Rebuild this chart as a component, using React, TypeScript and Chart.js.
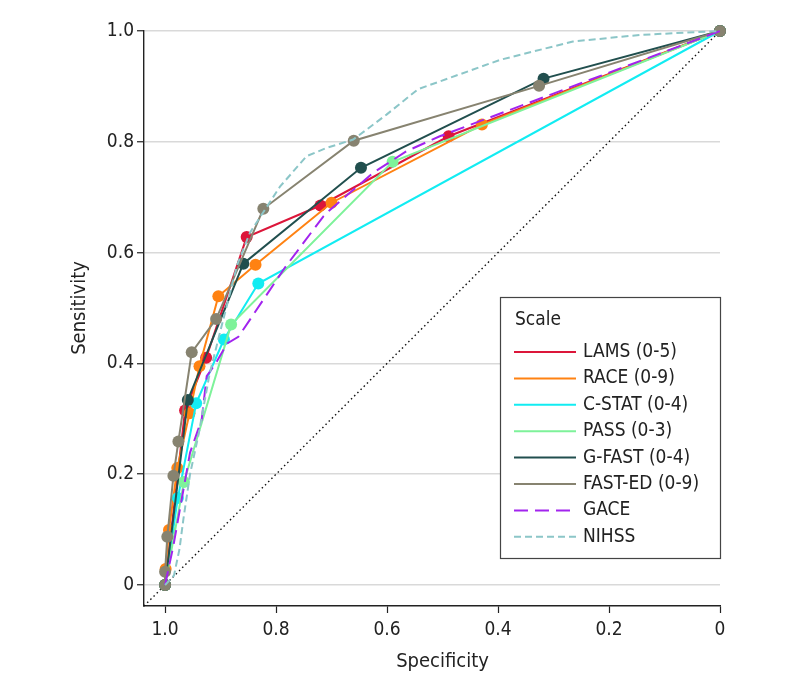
import React, { useEffect, useRef } from "react";
import { Chart, registerables } from "chart.js";

Chart.register(...registerables);

// ---- data (specificity, sensitivity) ----
const seriesNames = ["LAMS (0-5)", "RACE (0-9)", "C-STAT (0-4)", "PASS (0-3)", "G-FAST (0-4)", "FAST-ED (0-9)", "GACE", "NIHSS"];

const lamsSpec = [1, 0.964, 0.926, 0.853, 0.72, 0.489, 0];
const lamsSens = [0, 0.315, 0.41, 0.628, 0.685, 0.81, 1];

const raceSpec = [1, 0.999, 0.993, 0.978, 0.956, 0.938, 0.904, 0.837, 0.7, 0.429, 0];
const raceSens = [0, 0.029, 0.099, 0.211, 0.31, 0.395, 0.521, 0.578, 0.69, 0.831, 1];

const cstatSpec = [1, 0.977, 0.944, 0.894, 0.832, 0];
const cstatSens = [0, 0.157, 0.328, 0.443, 0.544, 1];

const passSpec = [1, 0.966, 0.881, 0.59, 0];
const passSens = [0, 0.186, 0.47, 0.764, 1];

const gfastSpec = [1, 0.959, 0.859, 0.647, 0.318, 0];
const gfastSens = [0, 0.334, 0.58, 0.753, 0.914, 1];

const fastedSpec = [1, 1.0, 0.996, 0.985, 0.976, 0.952, 0.908, 0.823, 0.66, 0.326, 0];
const fastedSens = [0, 0.024, 0.087, 0.197, 0.259, 0.42, 0.48, 0.679, 0.802, 0.901, 1];

const gaceSpec = [1, 0.985, 0.955, 0.934, 0.925, 0.91, 0.888, 0.868, 0.847, 0.784, 0.715, 0.703, 0.625, 0.565, 0.505, 0];
const gaceSens = [0, 0.071, 0.239, 0.299, 0.377, 0.398, 0.436, 0.448, 0.479, 0.573, 0.665, 0.677, 0.744, 0.783, 0.81, 1];

const nihssSpec = [1, 0.984, 0.974, 0.967, 0.955, 0.94, 0.92, 0.9, 0.87, 0.847, 0.793, 0.745, 0.709, 0.661, 0.601, 0.544, 0.396, 0.265, 0.144, 0];
const nihssSens = [0, 0.017, 0.065, 0.119, 0.2, 0.27, 0.38, 0.46, 0.578, 0.636, 0.719, 0.774, 0.789, 0.804, 0.849, 0.895, 0.948, 0.981, 0.993, 1];

const refSpec = [1.038, 0];
const refSens = [-0.038, 1];

const xTicks = [1, 0.8, 0.6, 0.4, 0.2, 0];
const yTicks = [0, 0.2, 0.4, 0.6, 0.8, 1];
const xTickLabels = ["1.0", "0.8", "0.6", "0.4", "0.2", "0"];
const yTickLabels = ["0", "0.2", "0.4", "0.6", "0.8", "1.0"];

const colors = ["#dc163a", "#ff8212", "#12ecf2", "#7ef29a", "#214f4e", "#878370", "#a224ee", "#8cc6c8"];
const dashes: number[][] = [[], [], [], [], [], [], [14, 7], [7, 4]];
const hasMarkers = [true, true, true, true, true, true, false, false];

const FONT = '"DejaVu Sans Condensed", "DejaVu Sans", sans-serif';

const pts = (sx: number[], sy: number[]) => sx.map((v, i) => ({ x: v, y: sy[i] }));

const allSpec = [lamsSpec, raceSpec, cstatSpec, passSpec, gfastSpec, fastedSpec, gaceSpec, nihssSpec];
const allSens = [lamsSens, raceSens, cstatSens, passSens, gfastSens, fastedSens, gaceSens, nihssSens];

const overlayPlugin = {
  id: "overlay",
  afterDraw(chart: any) {
    const ctx = chart.ctx;
    const xs = chart.scales.x;
    const ys = chart.scales.y;
    const ca = chart.chartArea;
    ctx.save();
    // axis titles
    ctx.fillStyle = "#222";
    ctx.font = `20px ${FONT}`;
    ctx.textAlign = "center";
    ctx.textBaseline = "middle";
    const xc = (xs.getPixelForValue(1) + xs.getPixelForValue(0)) / 2;
    ctx.fillText("Specificity", xc, chart.height - 22);
    const yc = (ys.getPixelForValue(1) + ys.getPixelForValue(0)) / 2;
    ctx.save();
    ctx.translate(72, yc);
    ctx.rotate(-Math.PI / 2);
    ctx.fillText("Sensitivity", 0, 0);
    ctx.restore();

    // legend
    const bw = 220, bh = 261;
    const bx = ca.right - bw;
    const by = ca.top + 266;
    ctx.fillStyle = "#fff";
    ctx.fillRect(bx, by, bw, bh);
    ctx.strokeStyle = "#444";
    ctx.lineWidth = 1.2;
    ctx.strokeRect(bx + 0.5, by + 0.5, bw, bh);
    ctx.fillStyle = "#222";
    ctx.textAlign = "left";
    ctx.font = `19px ${FONT}`;
    ctx.fillText("Scale", bx + 15, by + 23);
    seriesNames.forEach((name, i) => {
      const y = by + 55 + i * 26.4;
      ctx.beginPath();
      ctx.strokeStyle = colors[i];
      ctx.lineWidth = 2;
      ctx.setLineDash(dashes[i]);
      ctx.moveTo(bx + 14, y);
      ctx.lineTo(bx + 76, y);
      ctx.stroke();
      ctx.setLineDash([]);
      ctx.fillStyle = "#222";
      ctx.fillText(name, bx + 83, y);
    });
    ctx.restore();
  },
};

export default function App() {
  const ref = useRef<HTMLCanvasElement>(null);
  useEffect(() => {
    if (!ref.current) return;
    const datasets: any[] = seriesNames.map((name, i) => ({
      label: name,
      data: pts(allSpec[i], allSens[i]),
      showLine: true,
      borderColor: colors[i],
      backgroundColor: colors[i],
      borderWidth: 2,
      borderDash: dashes[i],
      pointRadius: hasMarkers[i] ? 6 : 0,
      pointBorderWidth: 0,
      pointBackgroundColor: colors[i],
      tension: 0,
      clip: false,
      order: -i,
    }));
    datasets.push({
      label: "reference",
      data: pts(refSpec, refSens),
      showLine: true,
      borderColor: "#111",
      borderWidth: 1.4,
      borderDash: [1.5, 3],
      pointRadius: 0,
      clip: false,
      order: 100,
    });
    const chart = new Chart(ref.current, {
      type: "scatter",
      data: { datasets },
      options: {
        animation: false,
        responsive: true,
        maintainAspectRatio: false,
        layout: { padding: { top: 23, right: 66, left: 0, bottom: 0 } },
        plugins: { legend: { display: false }, tooltip: { enabled: false } },
        scales: {
          x: {
            type: "linear",
            reverse: true,
            min: 0,
            max: 1.038,
            afterBuildTicks: (s: any) => {
              s.ticks = xTicks.map((v) => ({ value: v }));
            },
            afterFit: (s: any) => {
              s.height = 78;
            },
            grid: { drawOnChartArea: false, tickLength: 7, tickColor: "#222", tickWidth: 1.2 },
            border: { color: "#222", width: 1.4 },
            ticks: {
              color: "#222",
              padding: 6,
              maxRotation: 0,
              font: { family: FONT, size: 19 },
              callback: (v: any) => xTickLabels[xTicks.indexOf(Number(v))] ?? "",
            },
          },
          y: {
            type: "linear",
            min: -0.038,
            max: 1,
            afterBuildTicks: (s: any) => {
              s.ticks = yTicks.map((v) => ({ value: v }));
            },
            afterFit: (s: any) => {
              s.width = 136;
            },
            grid: { color: "#d9d9d9", lineWidth: 1.5, tickLength: 7, tickColor: "#222", tickWidth: 1.2 },
            border: { color: "#222", width: 1.4 },
            ticks: {
              color: "#222",
              padding: 3,
              font: { family: FONT, size: 19 },
              callback: (v: any) => yTickLabels[yTicks.indexOf(Number(v))] ?? "",
            },
          },
        },
      },
      plugins: [overlayPlugin],
    });
    return () => chart.destroy();
  }, []);
  return (
    <div style={{ width: 778, height: 676, position: "relative" }}>
      <canvas ref={ref} />
    </div>
  );
}
